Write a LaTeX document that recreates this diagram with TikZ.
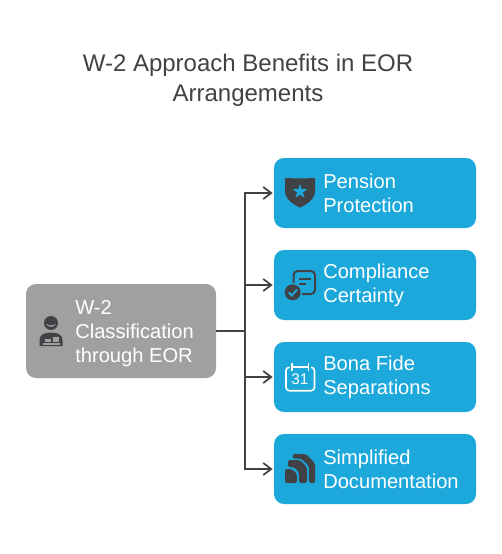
\documentclass[tikz,border=0pt]{standalone}
\usepackage{fontspec}
\setmainfont{Liberation Sans}
\usepackage{xcolor}
\usetikzlibrary{arrows.meta,positioning,calc}
\definecolor{boxBlue}{HTML}{1DA8DB}
\definecolor{boxGray}{HTML}{A0A0A0}
\definecolor{inkDark}{HTML}{404246}
\tikzset{
  srcbox/.style={draw=none,fill=boxGray,rounded corners=7.5pt,minimum width=142.5pt,minimum height=70.5pt,inner sep=0pt,outer sep=0pt},
  leafbox/.style={draw=none,fill=boxBlue,rounded corners=7.5pt,minimum width=151.5pt,minimum height=52.5pt,inner sep=0pt,outer sep=0pt},
  boxtext/.style={text=white,font=\fontsize{15.1pt}{18pt}\selectfont,align=left,anchor=west,inner sep=0pt},
  link/.style={draw=inkDark,line width=1.3pt,shorten >=1pt,-{Straight Barb[length=6pt,width=9pt,line width=1.3pt]}},
  trunk/.style={draw=inkDark,line width=1.3pt},
}
\begin{document}
\begin{tikzpicture}[x=0.75pt,y=-0.75pt]
\useasboundingbox (0,0) rectangle (502,554);
\fill[white] (0,0) rectangle (502,554);
\node[font=\fontsize{18pt}{22.5pt}\selectfont,text=inkDark,align=center] (title) at (248,80) {W-2 Approach Benefits in EOR\\Arrangements};
% boxes
\node[srcbox] (src) at (121,331) {};
\node[leafbox] (pension) at (375,193) {};
\node[leafbox,below=16.5pt of pension] (compliance) {};
\node[leafbox,below=16.5pt of compliance] (bona) {};
\node[leafbox,below=16.5pt of bona] (simple) {};
% labels
\node[boxtext] (srctext) at (75,334) {W-2\\Classification\\through EOR};
\node[boxtext] (pensiontext) at (323,193) {Pension\\Protection};
\node[boxtext] (compliancetext) at (323,285) {Compliance\\Certainty};
\node[boxtext] (bonatext) at (323,377) {Bona Fide\\Separations};
\node[boxtext] (simpletext) at (323,469) {Simplified\\Documentation};
% connectors
\coordinate (hub) at (245,331);
\draw[trunk] (src.east |- hub) -- (hub);
\foreach \leaf in {pension,compliance,bona,simple}
  \draw[link] (hub) |- (\leaf.west);
% shield
\fill[inkDark] (285,178) .. controls (295,178.5) and (305,178.5) .. (315,178) -- (315,191)
  .. controls (315,199) and (307,204.5) .. (300,207.5) .. controls (293,204.5) and (285,199) .. (285,191) -- cycle;
\fill[boxBlue] (300,184) -- (301.8,189.2) -- (307.2,189.2) -- (302.9,192.5) -- (304.5,197.8) -- (300,194.6) -- (295.5,197.8) -- (297.1,192.5) -- (292.8,189.2) -- (298.2,189.2) -- cycle;
% document with check
\draw[inkDark,line width=1.5pt,rounded corners=3pt] (293.5,283) -- (293.5,271) -- (315,271) -- (315,294) -- (302,294);
\draw[inkDark,line width=1.5pt] (299,279) -- (311,279) (299,284) -- (306,284);
\fill[inkDark] (292.7,292.3) circle (8);
\draw[boxBlue,line width=1.4pt] (288.7,292.5) -- (291.7,295.5) -- (297,289.5);
% calendar
\draw[white,line width=1.2pt,rounded corners=2.5pt] (289.5,367.3) -- (286,367.3) -- (286,390.7) -- (314.5,390.7) -- (314.5,367.3) -- (311,367.3);
\draw[white,line width=1.2pt] (291.7,363) -- (291.7,371) (308.3,363) -- (308.3,371) (291.7,367) -- (308.3,367);
\node[text=white,inner sep=0pt,font=\fontsize{11.5pt}{11.5pt}\selectfont] (calnum) at (300,379.5) {31};
% stacked pages
\fill[inkDark,rounded corners=1.5pt] (285,483) -- (285,469) -- (292,469) -- (297,474) -- (297,483) -- cycle;
\fill[inkDark,rounded corners=1.5pt] (288,460) -- (300,460) -- (307,467) -- (307,483) -- (299,483) -- (299,472) -- (294,467) -- (288,467) -- cycle;
\fill[inkDark,rounded corners=1.5pt] (292.7,454) -- (306,454) -- (315,463) -- (315,483) -- (309,483) -- (309,466) -- (301,458.5) -- (292.7,458.5) -- cycle;
% worker
\fill[inkDark] (51,323) circle (7);
\fill[boxGray] (46,323.5) .. controls (48,326) and (54,326) .. (56,323.5) .. controls (55,328) and (47,328) .. (46,323.5) -- cycle;
\fill[inkDark] (39.5,346) -- (39.5,340) .. controls (39.5,335) and (44,332.5) .. (51,332.5) .. controls (58,332.5) and (62.5,335) .. (62.5,340) -- (62.5,346) -- cycle;
\fill[boxGray] (45,338.5) rectangle (51,342);
\fill[boxGray] (52.5,336.5) rectangle (59,342);
\fill[boxGray] (43,343.2) rectangle (59.5,345);
\end{tikzpicture}
\end{document}
